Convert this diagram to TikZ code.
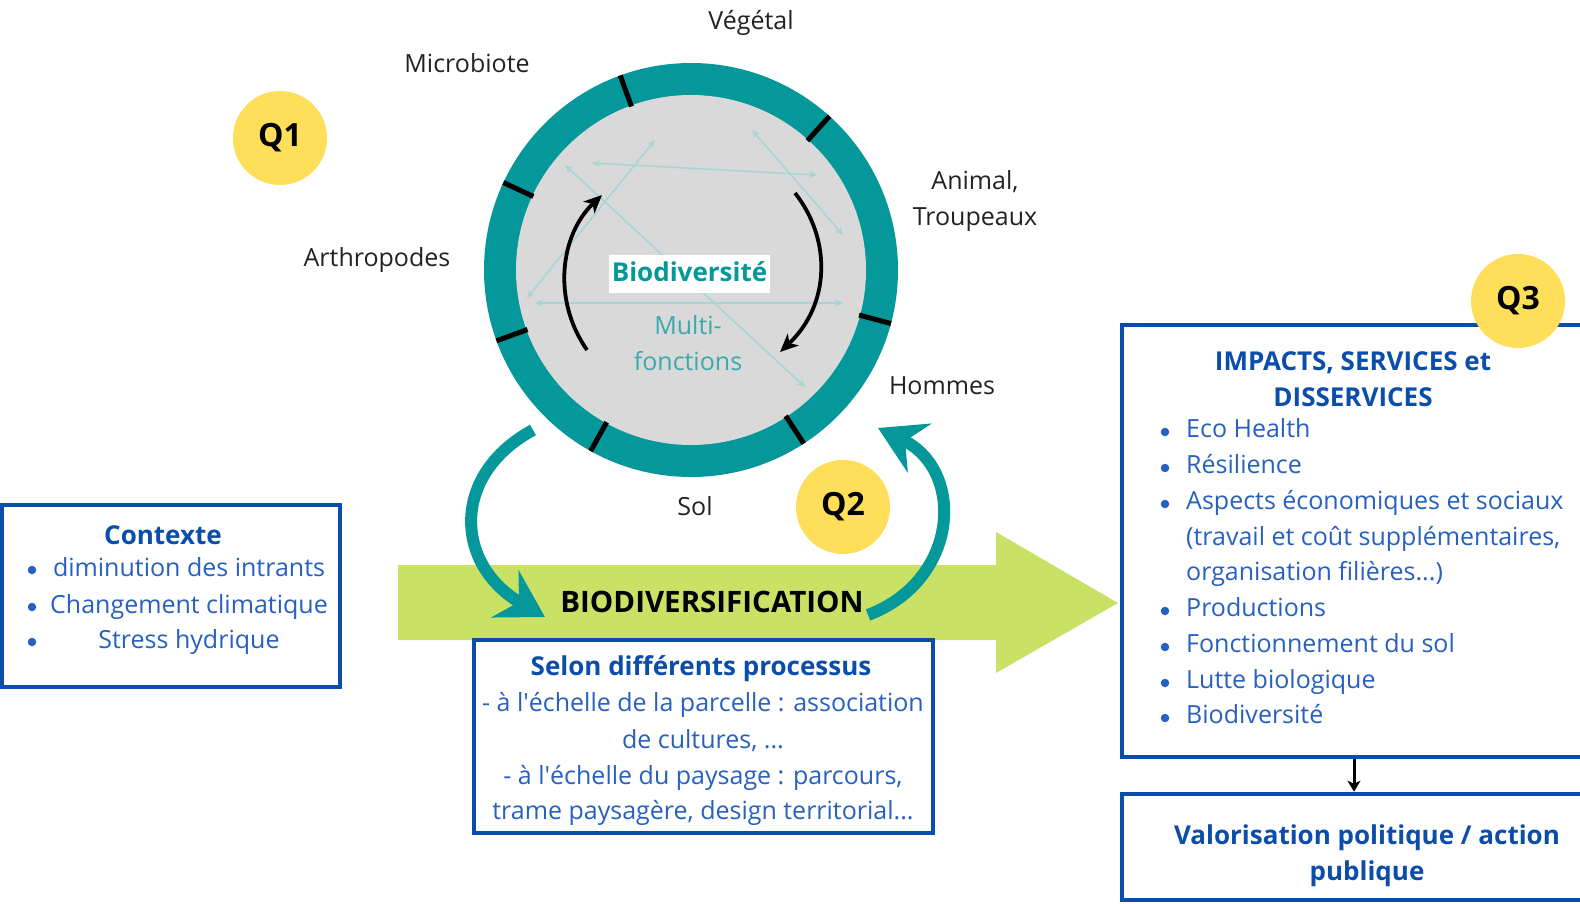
\documentclass[tikz,border=0pt]{standalone}
\usepackage{fontspec}
\setmainfont{Open Sans}
\usepackage{xcolor}
\usetikzlibrary{positioning,arrows.meta,calc}
\definecolor{ringteal}{HTML}{05989B}
\definecolor{discgrey}{HTML}{D9D9D9}
\definecolor{linkteal}{HTML}{A9D4D5}
\definecolor{multiteal}{HTML}{3AAAAC}
\definecolor{qyellow}{HTML}{FFDE59}
\definecolor{arrowgreen}{HTML}{C9E265}
\definecolor{boxblue}{HTML}{0B4DAA}
\definecolor{itemblue}{HTML}{2760C0}
\definecolor{labelgrey}{HTML}{222222}
\tikzset{
  qmark/.style={circle,fill=qyellow,minimum size=94pt,inner sep=0pt,font=\fontsize{32}{32}\selectfont\bfseries},
  bluebox/.style={draw=boxblue,line width=4.5pt,fill=white,inner sep=0pt},
  ringlabel/.style={text=labelgrey,font=\fontsize{25}{36}\selectfont,align=center},
  listitem/.style={text=itemblue,font=\fontsize{25}{36}\selectfont,align=center,text height=17pt,text depth=5pt,inner sep=0pt},
  bulletdot/.style={circle,fill=itemblue,minimum size=8.5pt,inner sep=0pt},
  boxtitle/.style={text=boxblue,font=\fontsize{26}{36}\selectfont\bfseries,align=center},
  crosslink/.style={linkteal,line width=1.6pt,{Stealth[length=8pt,width=7pt]}-{Stealth[length=8pt,width=7pt]}},
  turnarrow/.style={line width=3.8pt,-{Stealth[length=18pt,width=16pt,inset=5pt]}},
  bigturn/.style={ringteal,line width=12pt,-{Stealth[length=46pt,width=54pt,inset=16pt]}}
}
\begin{document}
\begin{tikzpicture}[x=1pt,y=-1pt]
  \useasboundingbox (0,0) rectangle (1580,904);
  \clip (0,0) rectangle (1580,904);
  % big arrow
  \fill[arrowgreen] (398,565) -- (996,565) -- (996,532) -- (1118,603) -- (996,673) -- (996,640) -- (398,640) -- cycle;
  % ring
  \coordinate (centre) at (691,270);
  \fill[ringteal] (centre) circle (207);
  \fill[discgrey] (centre) circle (175);
  \foreach \a in {-110,-48,15,57,119,-200,-155}
    \draw[line width=5pt] ($(centre)+(\a:174)$) -- ($(centre)+(\a:207)$);
  \draw[crosslink] (592,163) -- (817,175);
  \draw[crosslink] (655,140) -- (527,298);
  \draw[crosslink] (565,165) -- (805,387);
  \draw[crosslink] (752,130) -- (843,235);
  \draw[crosslink] (535,303) -- (843,303);
  \coordinate (upfrom) at (587,350);
  \coordinate (upto) at (602,195);
  \coordinate (downfrom) at (795,193);
  \coordinate (downto) at (780,352);
  \draw[turnarrow] (upfrom) .. controls (552,300) and (560,235) .. (upto);
  \draw[turnarrow] (downfrom) .. controls (832,240) and (830,305) .. (downto);
  \node[fill=white,minimum width=161pt,minimum height=38pt,inner sep=0pt,text height=24pt,text depth=10pt,text=ringteal,font=\fontsize{26}{36}\selectfont\bfseries] at(689.5,274)(biodiv){Biodiversité};
  \node[text=multiteal,font=\fontsize{25}{36}\selectfont,align=center] at(688,343)(multi){Multi-\\fonctions};
  \node[ringlabel] at(751,23)(vegetal){Végétal};
  \node[ringlabel] at(467,63)(microbiote){Microbiote};
  \node[ringlabel] at(975,201)(animal){Animal,\\Troupeaux};
  \node[ringlabel] at(377,260)(arthro){Arthropodes};
  \node[ringlabel] at(942,386)(hommes){Hommes};
  \node[ringlabel] at(695,506)(sol){Sol};
  % teal loop arrows
  \coordinate (dropstart) at (533,430);
  \coordinate (dropend) at (545,617);
  \coordinate (risestart) at (868,615);
  \coordinate (riseend) at (878,428);
  \draw[bigturn] (dropstart) .. controls (450,475) and (455,565) .. (dropend);
  \draw[bigturn] (risestart) .. controls (960,580) and (965,470) .. (riseend);
  \node[font=\fontsize{29.5}{29.5}\selectfont\bfseries] at(712,602)(biodivers){BIODIVERSIFICATION};
  % questions
  \node[qmark] at(280,138)(q1){Q1};
  \node[qmark] at(843,507)(q2){Q2};
  % contexte
  \node[bluebox,minimum width=338pt,minimum height=182pt] at(171,596)(ctxbox){};
  \node[boxtitle] at(163,535)(ctxtitle){Contexte};
  \node[bulletdot] at(32,570)(){};
  \node[bulletdot] at(32,607)(){};
  \node[bulletdot] at(32,642)(){};
  \node[listitem] at(189,570)(){diminution des intrants};
  \node[listitem] at(189,607)(){Changement climatique};
  \node[listitem] at(189,642)(){Stress hydrique};
  % processus
  \node[bluebox,minimum width=459pt,minimum height=193pt] at(703.5,736.5)(procbox){};
  \node[boxtitle] at(701,669)(proctitle){Selon différents processus};
  \node[listitem] at(703,705)(){- à l\textquotesingle échelle de la parcelle : association};
  \node[listitem] at(703,742)(){de cultures, ...};
  \node[listitem] at(703,778)(){- à l\textquotesingle échelle du paysage : parcours,};
  \node[listitem] at(703,813)(){trame paysagère, design territorial...};
  % impacts
  \node[bluebox,minimum width=464pt,minimum height=432pt] at(1354,541)(impbox){};
  \node[boxtitle] at(1353,379)(imptitle){IMPACTS, SERVICES et\\DISSERVICES};
  \node[bulletdot] at(1165,432)(){};
  \node[bulletdot] at(1165,468)(){};
  \node[bulletdot] at(1165,504)(){};
  \node[bulletdot] at(1165,611)(){};
  \node[bulletdot] at(1165,647)(){};
  \node[bulletdot] at(1165,683)(){};
  \node[bulletdot] at(1165,718)(){};
  \node[listitem,anchor=west] at(1186,431)(){Eco Health};
  \node[listitem,anchor=west] at(1186,467)(){Résilience};
  \node[listitem,anchor=west] at(1186,503)(){Aspects économiques et sociaux};
  \node[listitem,anchor=west] at(1186,539)(){(travail et coût supplémentaires,};
  \node[listitem,anchor=west] at(1186,574)(){organisation filières...)};
  \node[listitem,anchor=west] at(1186,610)(){Productions};
  \node[listitem,anchor=west] at(1186,646)(){Fonctionnement du sol};
  \node[listitem,anchor=west] at(1186,682)(){Lutte biologique};
  \node[listitem,anchor=west] at(1186,717)(){Biodiversité};
  \node[qmark] at(1518,301)(q3){Q3};
  % valorisation
  \node[bluebox,minimum width=464pt,minimum height=106pt] at(1354,847)(valbox){};
  \node[boxtitle] at(1367,856)(valtitle){Valorisation politique / action\\publique};
  \draw[line width=3pt,-{Stealth[length=11pt,width=13pt,inset=3pt]}] (impbox.south) -- (valbox.north);
\end{tikzpicture}
\end{document}
